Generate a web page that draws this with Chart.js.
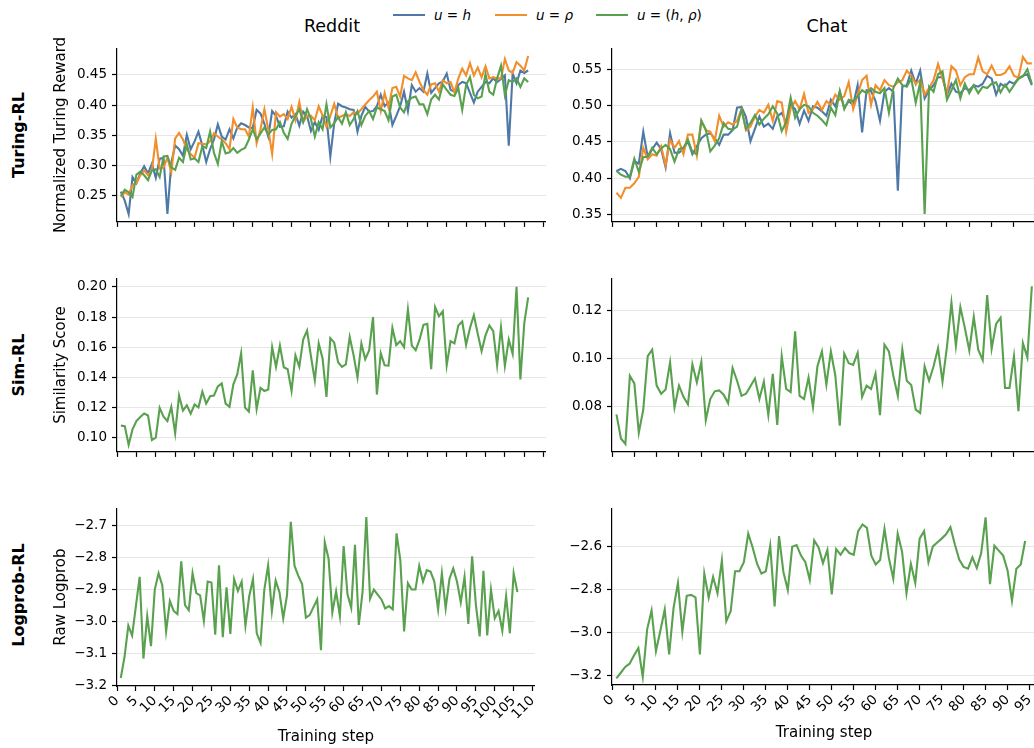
<!DOCTYPE html>
<html><head><meta charset="utf-8">
<script src="https://cdn.jsdelivr.net/npm/chart.js@4.4.0/dist/chart.umd.min.js"></script>
<style>
html,body{margin:0;padding:0;width:1034px;height:748px;overflow:hidden;background:#fff;font-family:"DejaVu Sans",sans-serif;}
canvas{position:absolute;}
.t{position:absolute;white-space:nowrap;color:#000;transform:translate(-50%,-50%);}
.rl{position:absolute;white-space:nowrap;color:#000;font-weight:bold;font-size:16px;transform:translate(-50%,-50%) rotate(-90deg);}
.lg{position:absolute;height:2px;width:32px;}
.lt{position:absolute;white-space:nowrap;font-size:13.5px;color:#000;transform:translateY(-50%);}
</style></head><body>
<div class="t" style="left:332px;top:26px;font-size:17.5px;">Reddit</div>
<div class="t" style="left:827px;top:26px;font-size:17.5px;">Chat</div>
<div class="rl" style="left:18px;top:135px;">Turing-RL</div>
<div class="rl" style="left:18px;top:365px;">Sim-RL</div>
<div class="rl" style="left:18px;top:595px;">Logprob-RL</div>
<div class="lg" style="left:393px;top:14px;background:#4e79a7;"></div>
<div class="lt" style="left:434px;top:15px;"><i>u</i> = <i>h</i></div>
<div class="lg" style="left:495px;top:14px;background:#f28e2b;"></div>
<div class="lt" style="left:536px;top:15px;"><i>u</i> = <i>ρ</i></div>
<div class="lg" style="left:596px;top:14px;background:#59a14f;"></div>
<div class="lt" style="left:637px;top:15px;"><i>u</i> = (<i>h</i>, <i>ρ</i>)</div>
<script>
// ---------- DATA ----------
const seriesNames = ["u = h", "u = ρ", "u = (h, ρ)"];
const seriesColors = ["#4e79a7", "#f28e2b", "#59a14f"];

const redditTuringH = [
0.257,0.242,0.220,0.281,0.271,0.287,0.299,0.287,0.303,0.280,
0.311,0.313,0.220,0.305,0.333,0.327,0.316,0.351,0.327,0.340,
0.356,0.333,0.306,0.327,0.343,0.368,0.348,0.343,0.360,0.345,
0.363,0.370,0.367,0.363,0.362,0.392,0.386,0.369,0.348,0.390,
0.382,0.364,0.365,0.389,0.379,0.385,0.366,0.389,0.382,0.357,
0.372,0.359,0.382,0.380,0.315,0.370,0.402,0.398,0.396,0.393,
0.392,0.356,0.382,0.397,0.389,0.390,0.398,0.417,0.398,0.404,
0.367,0.382,0.398,0.422,0.390,0.433,0.422,0.428,0.422,0.452,
0.420,0.428,0.436,0.439,0.452,0.425,0.422,0.433,0.438,0.436,
0.420,0.404,0.422,0.430,0.438,0.436,0.444,0.438,0.443,0.449,
0.333,0.452,0.436,0.457,0.453,0.457];
const redditTuringRho = [
0.248,0.256,0.252,0.268,0.271,0.284,0.292,0.284,0.292,0.344,
0.295,0.297,0.313,0.289,0.345,0.354,0.343,0.327,0.319,0.313,
0.337,0.336,0.335,0.340,0.353,0.348,0.343,0.337,0.327,0.377,
0.363,0.360,0.360,0.348,0.396,0.337,0.360,0.393,0.360,0.319,
0.388,0.381,0.385,0.377,0.397,0.375,0.405,0.372,0.382,0.382,
0.375,0.398,0.383,0.364,0.382,0.402,0.379,0.382,0.385,0.382,
0.388,0.386,0.393,0.401,0.408,0.414,0.422,0.390,0.420,0.396,
0.428,0.430,0.414,0.448,0.444,0.441,0.454,0.438,0.425,0.417,
0.434,0.436,0.422,0.441,0.436,0.438,0.421,0.444,0.460,0.449,
0.469,0.449,0.462,0.446,0.464,0.444,0.446,0.444,0.444,0.476,
0.457,0.453,0.471,0.465,0.457,0.481];
const redditTuringHRho = [
0.250,0.260,0.256,0.248,0.285,0.290,0.284,0.276,0.292,0.294,
0.281,0.315,0.316,0.297,0.293,0.313,0.306,0.335,0.310,0.312,
0.306,0.332,0.329,0.356,0.321,0.303,0.340,0.320,0.322,0.329,
0.321,0.326,0.329,0.343,0.360,0.343,0.353,0.363,0.351,0.359,
0.360,0.372,0.354,0.344,0.369,0.382,0.393,0.372,0.393,0.377,
0.348,0.372,0.360,0.401,0.363,0.370,0.380,0.369,0.388,0.367,
0.377,0.390,0.367,0.382,0.390,0.377,0.396,0.393,0.390,0.375,
0.414,0.417,0.396,0.388,0.406,0.412,0.414,0.401,0.401,0.385,
0.409,0.417,0.409,0.434,0.425,0.417,0.415,0.428,0.392,0.433,
0.446,0.417,0.411,0.414,0.451,0.422,0.417,0.444,0.465,0.416,
0.441,0.438,0.444,0.430,0.444,0.438];

const chatTuringH = [
0.410,0.413,0.410,0.400,0.424,0.420,0.464,0.429,0.440,0.449,
0.440,0.415,0.462,0.435,0.435,0.440,0.451,0.433,0.444,0.455,
0.460,0.462,0.455,0.446,0.460,0.460,0.466,0.497,0.498,0.484,
0.451,0.468,0.485,0.471,0.475,0.468,0.485,0.490,0.477,0.501,
0.495,0.475,0.493,0.479,0.499,0.497,0.492,0.486,0.508,0.499,
0.519,0.497,0.506,0.501,0.528,0.463,0.521,0.520,0.506,0.479,
0.519,0.524,0.519,0.383,0.526,0.528,0.548,0.530,0.548,0.510,
0.521,0.528,0.539,0.539,0.515,0.530,0.519,0.517,0.524,0.521,
0.528,0.526,0.530,0.541,0.537,0.515,0.530,0.526,0.533,0.530,
0.537,0.541,0.543,0.528];
const chatTuringRho = [
0.380,0.373,0.387,0.387,0.393,0.402,0.442,0.426,0.433,0.431,
0.444,0.418,0.453,0.442,0.451,0.433,0.460,0.460,0.431,0.479,
0.466,0.464,0.451,0.486,0.471,0.477,0.474,0.479,0.495,0.466,
0.471,0.485,0.494,0.490,0.501,0.479,0.506,0.504,0.464,0.496,
0.506,0.495,0.516,0.490,0.495,0.505,0.494,0.506,0.501,0.515,
0.508,0.513,0.532,0.495,0.515,0.535,0.541,0.501,0.528,0.521,
0.535,0.528,0.526,0.532,0.535,0.548,0.541,0.530,0.535,0.515,
0.524,0.535,0.557,0.537,0.517,0.554,0.548,0.528,0.539,0.543,
0.543,0.566,0.547,0.543,0.555,0.542,0.542,0.545,0.554,0.541,
0.538,0.567,0.558,0.558];
const chatTuringHRho = [
0.410,0.405,0.402,0.402,0.427,0.409,0.429,0.430,0.442,0.433,
0.441,0.446,0.440,0.423,0.440,0.442,0.453,0.436,0.433,0.479,
0.467,0.437,0.445,0.455,0.476,0.468,0.467,0.471,0.495,0.468,
0.476,0.487,0.474,0.482,0.488,0.499,0.489,0.465,0.477,0.511,
0.483,0.495,0.501,0.499,0.490,0.486,0.480,0.473,0.497,0.487,
0.520,0.495,0.508,0.506,0.513,0.521,0.517,0.524,0.519,0.517,
0.524,0.490,0.524,0.537,0.528,0.526,0.537,0.504,0.532,0.351,
0.526,0.519,0.543,0.547,0.508,0.521,0.535,0.510,0.530,0.517,
0.528,0.517,0.526,0.524,0.530,0.532,0.518,0.529,0.519,0.528,
0.537,0.540,0.550,0.530];

const redditSim = [
0.108,0.1077,0.0953,0.1055,0.111,0.1137,0.116,0.1147,0.0985,0.100,
0.1198,0.114,0.111,0.1205,0.103,0.128,0.118,0.1215,0.116,0.122,
0.120,0.1305,0.1226,0.1275,0.128,0.134,0.136,0.1226,0.1205,0.1354,
0.142,0.156,0.120,0.1173,0.1446,0.119,0.133,0.131,0.132,0.160,
0.147,0.161,0.1467,0.1454,0.131,0.1546,0.147,0.165,0.171,0.154,
0.138,0.1625,0.1525,0.127,0.166,0.163,0.150,0.147,0.1486,0.1667,
0.1546,0.140,0.1625,0.152,0.1578,0.180,0.1286,0.156,0.148,0.1478,
0.1727,0.1614,0.164,0.160,0.185,0.161,0.158,0.165,0.1748,0.1755,
0.1454,0.1866,0.1806,0.1838,0.148,0.164,0.1625,0.1744,0.177,0.1616,
0.1727,0.1812,0.1689,0.1574,0.1678,0.1744,0.1706,0.148,0.1731,0.1476,
0.165,0.1556,0.200,0.1386,0.1759,0.193];
const chatSim = [
0.0767,0.0667,0.0644,0.0927,0.0896,0.0691,0.0787,0.1009,0.1036,0.0887,
0.0853,0.0871,0.0983,0.0796,0.0887,0.0840,0.0809,0.0976,0.090,0.0985,
0.0743,0.0831,0.0863,0.0867,0.0849,0.0813,0.096,0.0907,0.0844,0.0853,
0.0884,0.0916,0.0831,0.0903,0.0764,0.0936,0.0723,0.1009,0.0873,0.086,
0.1113,0.0844,0.0831,0.092,0.0797,0.0967,0.1029,0.0891,0.1029,0.0929,
0.072,0.102,0.098,0.0973,0.1023,0.084,0.0887,0.0873,0.0937,0.0764,
0.1057,0.1029,0.0927,0.0844,0.1037,0.0907,0.0889,0.0787,0.0773,0.0967,
0.0907,0.0967,0.1043,0.0903,0.1049,0.1231,0.1052,0.1213,0.1127,0.1033,
0.1173,0.1036,0.0993,0.1263,0.104,0.1143,0.1169,0.0877,0.0877,0.1009,
0.078,0.1063,0.1004,0.130];

const redditLogprob = [
-3.177,-3.110,-3.013,-3.044,-2.952,-2.860,-3.116,-2.983,-3.077,-2.900,
-2.849,-2.887,-3.031,-2.936,-2.967,-2.977,-2.812,-2.949,-2.965,-2.849,
-2.911,-2.918,-2.998,-2.875,-2.878,-3.041,-2.824,-3.049,-2.893,-3.039,
-2.867,-2.904,-2.875,-3.013,-2.921,-2.867,-3.037,-3.067,-2.900,-2.824,
-2.967,-2.872,-2.908,-2.990,-2.918,-2.688,-2.826,-2.857,-2.883,-2.988,
-2.980,-2.955,-2.931,-3.090,-2.752,-2.803,-2.972,-2.906,-2.983,-2.764,
-2.914,-2.957,-2.760,-3.011,-2.908,-2.673,-2.929,-2.900,-2.916,-2.931,
-2.959,-2.952,-2.962,-2.724,-2.808,-3.031,-2.880,-2.900,-2.900,-2.826,
-2.875,-2.839,-2.844,-2.875,-2.962,-2.849,-2.959,-2.867,-2.834,-2.875,
-2.940,-2.860,-3.008,-2.796,-2.947,-3.047,-2.841,-3.044,-2.900,-2.990,
-2.967,-3.029,-2.921,-3.037,-2.849,-2.908];
const chatLogprob = [
-3.212,-3.186,-3.159,-3.144,-3.106,-3.071,-3.205,-2.984,-2.896,-3.086,
-2.991,-2.892,-3.101,-2.885,-2.768,-2.995,-2.828,-2.824,-2.835,-3.101,
-2.725,-2.836,-2.740,-2.816,-2.664,-2.946,-2.900,-2.714,-2.714,-2.672,
-2.539,-2.603,-2.679,-2.725,-2.714,-2.595,-2.877,-2.550,-2.717,-2.801,
-2.600,-2.592,-2.641,-2.672,-2.755,-2.570,-2.603,-2.676,-2.615,-2.821,
-2.611,-2.637,-2.606,-2.629,-2.637,-2.527,-2.496,-2.512,-2.641,-2.682,
-2.661,-2.516,-2.653,-2.748,-2.539,-2.623,-2.816,-2.679,-2.768,-2.562,
-2.527,-2.672,-2.598,-2.580,-2.562,-2.542,-2.509,-2.588,-2.659,-2.694,
-2.702,-2.649,-2.699,-2.629,-2.463,-2.774,-2.595,-2.618,-2.641,-2.710,
-2.851,-2.702,-2.682,-2.573];

const redditXTicks = [0,5,10,15,20,25,30,35,40,45,50,55,60,65,70,75,80,85,90,95,100,105,110];
const chatXTicks = [0,5,10,15,20,25,30,35,40,45,50,55,60,65,70,75,80,85,90,95];
const turingRedditYTicks = [0.25,0.30,0.35,0.40,0.45];
const turingChatYTicks = [0.35,0.40,0.45,0.50,0.55];
const simRedditYTicks = [0.10,0.12,0.14,0.16,0.18,0.20];
const simChatYTicks = [0.08,0.10,0.12];
const logRedditYTicks = [-3.2,-3.1,-3.0,-2.9,-2.8,-2.7];
const logChatYTicks = [-3.2,-3.0,-2.8,-2.6];

// ---------- CHARTS ----------
const FONT = "DejaVu Sans";
function pts(arr){ return arr.map((v,i)=>({x:i+1,y:v})); }
function ds(arr, ci){ return {label:seriesNames[ci], data:pts(arr), borderColor:seriesColors[ci], backgroundColor:seriesColors[ci], borderWidth:2.1, pointRadius:0, tension:0, fill:false, order:3-ci}; }
function fmt(v, d){ const s = Math.abs(v).toFixed(d); return (v < 0 ? "\u2212" : "") + s; }

function panel(p){
  const PT = 10;
  const cv = document.createElement('canvas');
  const W = p.right - p.left + p.yw, H = p.bottom - p.top + PT + p.xh;
  cv.width = W; cv.height = H;
  cv.style.left = (p.left - p.yw) + 'px'; cv.style.top = (p.top - PT) + 'px';
  cv.style.width = W + 'px'; cv.style.height = H + 'px';
  document.body.appendChild(cv);
  new Chart(cv, {
    type:'line',
    data:{datasets:p.datasets},
    options:{
      responsive:false, animation:false, devicePixelRatio:1,
      layout:{padding:{top:PT,left:0,right:0,bottom:0}, autoPadding:false},
      plugins:{legend:{display:false}, tooltip:{enabled:false}},
      elements:{point:{radius:0}, line:{tension:0}},
      scales:{
        x:{type:'linear', min:0, max:p.xMax,
          afterBuildTicks:s=>{ s.ticks = p.xTicks.map(v=>({value:v})); },
          afterFit:s=>{ s.height = p.xh; },
          grid:{display:true, drawOnChartArea:false, drawTicks:true, tickLength:5, tickWidth:1.2, tickColor:'#000'},
          border:{display:true, color:'#000', width:1.2},
          ticks:{display:p.showX, minRotation:45, maxRotation:45, autoSkip:false, padding:2, color:'#000', font:{family:FONT,size:13.5}, callback:v=>String(v)},
          title:{display:p.showX, text:'Training step', color:'#000', font:{family:FONT,size:15}, padding:{top:0,bottom:0}}
        },
        y:{type:'linear', min:p.yMin, max:p.yMax,
          afterBuildTicks:s=>{ s.ticks = p.yTicks.map(v=>({value:v})); },
          afterFit:s=>{ s.width = p.yw; },
          grid:{display:true, color:'#e6e6e6', lineWidth:1, drawTicks:true, tickLength:5, tickWidth:1.2, tickColor:'#000'},
          border:{display:true, color:'#000', width:1.2},
          ticks:{color:'#000', padding:5, font:{family:FONT,size:13.5}, callback:v=>fmt(v,p.dec)},
          title:{display:!!p.yTitle, text:p.yTitle||'', color:'#000', font:{family:FONT,size:15}, padding:{top:15,bottom:0}}
        }
      }
    }
  });
}

const L = {left:117, right:546, yw:80, xMax:110.6, xTicks:redditXTicks};
const R = {left:612, right:1043, yw:60, xMax:96.5, xTicks:chatXTicks};

panel(Object.assign({}, L, {top:45, bottom:225, xh:10, showX:false, yMin:0.207, yMax:0.494, yTicks:turingRedditYTicks, dec:2, yTitle:'Normalized Turing Reward',
  datasets:[ds(redditTuringH,0), ds(redditTuringRho,1), ds(redditTuringHRho,2)]}));
panel(Object.assign({}, R, {top:45, bottom:225, xh:10, showX:false, yMin:0.340, yMax:0.579, yTicks:turingChatYTicks, dec:2,
  datasets:[ds(chatTuringH,0), ds(chatTuringRho,1), ds(chatTuringHRho,2)]}));
panel(Object.assign({}, L, {top:275, bottom:455, xh:10, showX:false, yMin:0.0906, yMax:0.2058, yTicks:simRedditYTicks, dec:2, yTitle:'Similarity Score',
  datasets:[ds(redditSim,2)]}));
panel(Object.assign({}, R, {top:275, bottom:455, xh:10, showX:false, yMin:0.0611, yMax:0.1334, yTicks:simChatYTicks, dec:2,
  datasets:[ds(chatSim,2)]}));
panel(Object.assign({}, L, {top:505, bottom:686, xh:60, showX:true, yMin:-3.202, yMax:-2.645, yTicks:logRedditYTicks, dec:1, yTitle:'Raw Logprob',
  datasets:[ds(redditLogprob,2)]}));
panel(Object.assign({}, R, {top:505, bottom:685, xh:57, showX:true, yMin:-3.243, yMax:-2.42, yTicks:logChatYTicks, dec:1,
  datasets:[ds(chatLogprob,2)]}));
</script>
</body></html>
